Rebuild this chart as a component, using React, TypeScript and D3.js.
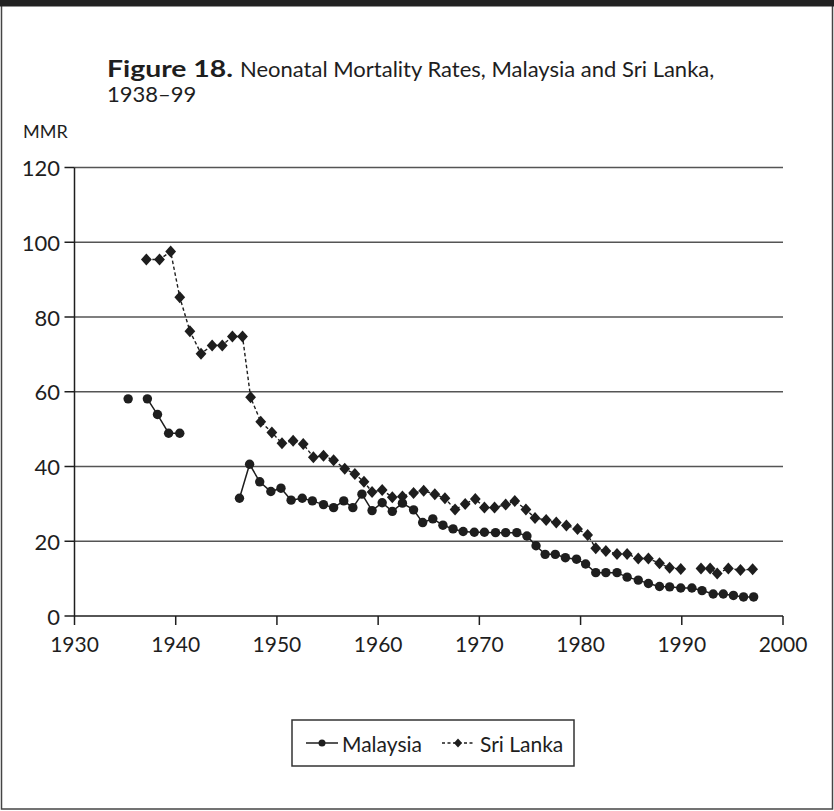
import React from "react";
import * as d3 from "d3";

// ---- data ----
const malaysiaYears = [
  1935.3, 1936.2, 1937.2, 1938.2, 1939.3, 1940.4, 1943.0, 1946.3, 1947.3, 1948.3, 1949.4,
  1950.4, 1951.4, 1952.5, 1953.5, 1954.6, 1955.6, 1956.6, 1957.5, 1958.4, 1959.4,
  1960.4, 1961.4, 1962.4, 1963.5, 1964.4, 1965.4, 1966.4, 1967.4, 1968.4, 1969.5,
  1970.5, 1971.6, 1972.6, 1973.7, 1974.7, 1975.6, 1976.5, 1977.5, 1978.5, 1979.6,
  1980.5, 1981.5, 1982.5, 1983.6, 1984.6, 1985.7, 1986.7, 1987.8, 1988.8, 1989.9,
  1991.0, 1992.0, 1993.1, 1994.1, 1995.1, 1996.1, 1997.1,
];
const malaysiaValues: (number | null)[] = [
  58.1, null, 58.1, 53.9, 48.9, 48.9, null, 31.5, 40.6, 35.9, 33.3,
  34.2, 31.0, 31.5, 30.8, 29.8, 29.0, 30.8, 29.0, 32.6, 28.2,
  30.3, 28.0, 30.2, 28.4, 25.0, 26.0, 24.3, 23.3, 22.6, 22.4,
  22.4, 22.3, 22.3, 22.3, 21.4, 18.8, 16.5, 16.5, 15.6, 15.2,
  13.9, 11.6, 11.6, 11.6, 10.4, 9.6, 8.7, 7.9, 7.8, 7.5,
  7.5, 6.8, 5.9, 5.9, 5.5, 5.1, 5.1,
];

const sriLankaYears = [
  1937.1, 1938.4, 1939.5, 1940.4, 1941.4, 1942.5, 1943.6, 1944.6, 1945.6, 1946.6,
  1947.4, 1948.4, 1949.5, 1950.5, 1951.6, 1952.6, 1953.6, 1954.6, 1955.6, 1956.7,
  1957.7, 1958.6, 1959.4, 1960.4, 1961.4, 1962.4, 1963.5, 1964.5, 1965.6, 1966.6,
  1967.6, 1968.6, 1969.6, 1970.5, 1971.5, 1972.6, 1973.5, 1974.6, 1975.5, 1976.6,
  1977.6, 1978.6, 1979.7, 1980.7, 1981.5, 1982.5, 1983.6, 1984.6, 1985.7, 1986.7,
  1987.8, 1988.8, 1989.9, 1990.9, 1991.9, 1992.8, 1993.5, 1994.6, 1995.8, 1997.0,
];
const sriLankaValues: (number | null)[] = [
  95.4, 95.4, 97.5, 85.3, 76.2, 70.2, 72.4, 72.4, 74.8, 74.8,
  58.5, 52.0, 49.1, 46.2, 46.9, 46.0, 42.5, 42.9, 41.7, 39.4,
  38.0, 35.9, 33.2, 33.7, 31.8, 32.0, 32.9, 33.5, 32.6, 31.5,
  28.5, 30.0, 31.3, 29.0, 29.0, 29.8, 30.8, 28.5, 26.2, 25.7,
  25.0, 24.2, 23.3, 21.7, 18.1, 17.4, 16.6, 16.6, 15.4, 15.4,
  14.1, 12.9, 12.6, null, 12.7, 12.7, 11.4, 12.7, 12.3, 12.5,
];

const xTicks = [1930, 1940, 1950, 1960, 1970, 1980, 1990, 2000];
const yTicks = [0, 20, 40, 60, 80, 100, 120];
const seriesNames = ["Malaysia", "Sri Lanka"];

const W = 834;
const H = 811;
const FONT = "Lato, 'Open Sans', sans-serif";
const INK = "#1e1e1e";

type Pt = { x: number; v: number | null };

export default function App() {
  const x = d3.scaleLinear().domain([1930, 2000]).range([74.5, 783]);
  const y = d3.scaleLinear().domain([0, 120]).range([616, 167.5]);

  const mal: Pt[] = malaysiaYears.map((yr, i) => ({ x: yr, v: malaysiaValues[i] }));
  const sri: Pt[] = sriLankaYears.map((yr, i) => ({ x: yr, v: sriLankaValues[i] }));

  const line = d3
    .line<Pt>()
    .defined((d) => d.v != null)
    .x((d) => x(d.x))
    .y((d) => y(d.v as number));

  const diamond = (cx: number, cy: number, r = 6) =>
    `M${cx},${cy - r}L${cx + r * 0.9},${cy}L${cx},${cy + r}L${cx - r * 0.9},${cy}Z`;

  const [x0, x1] = x.range();

  return (
    <svg
      width={W}
      height={H}
      style={{ position: "absolute", left: 0, top: 0, background: "#fff" }}
      fontFamily={FONT}
    >
      {/* frame */}
      <rect x={0} y={0} width={W} height={H} fill="#fff" />
      <rect x={1.5} y={1} width={W - 3} height={H - 3} fill="none" stroke="#444" strokeWidth={1.5} />
      <rect x={0} y={0} width={W} height={6.5} fill="#222" />

      {/* title */}
      <text
        x={107}
        y={77}
        fontSize={23}
        fontWeight="bold"
        fill={INK}
        textLength={126}
        lengthAdjust="spacingAndGlyphs"
      >
        Figure 18.
      </text>
      <text x={240} y={77} fontSize={22} fill={INK}>
        Neonatal Mortality Rates, Malaysia and Sri Lanka,
      </text>
      <text x={107} y={102} fontSize={22} fill={INK}>
        1938–99
      </text>
      <text x={23} y={138} fontSize={18} fill={INK}>
        MMR
      </text>

      {/* gridlines */}
      {yTicks.map((t) => (
        <g key={t}>
          {t > 0 && (
            <line x1={x0} x2={x1} y1={y(t)} y2={y(t)} stroke="#555" strokeWidth={1.5} />
          )}
          <line x1={x0 - 10} x2={x0} y1={y(t)} y2={y(t)} stroke={INK} strokeWidth={1.5} />
          <text
            x={60}
            y={y(t)}
            textAnchor="end"
            dominantBaseline="central"
            fontSize={22}
            fill={INK}
          >
            {t}
          </text>
        </g>
      ))}

      {/* axes */}
      <line x1={x0} x2={x0} y1={y(120)} y2={y(0)} stroke={INK} strokeWidth={1.5} />
      <line x1={x0} x2={x1} y1={y(0)} y2={y(0)} stroke={INK} strokeWidth={1.5} />
      {xTicks.map((t) => (
        <g key={t}>
          <line x1={x(t)} x2={x(t)} y1={y(0)} y2={y(0) + 9} stroke={INK} strokeWidth={1.5} />
          <text x={x(t)} y={652} textAnchor="middle" fontSize={21} fill={INK}>
            {t}
          </text>
        </g>
      ))}

      {/* Sri Lanka */}
      <path d={line(sri) || ""} fill="none" stroke={INK} strokeWidth={1.4} strokeDasharray="3.5,2.5" />
      {sri
        .filter((d) => d.v != null)
        .map((d, i) => (
          <path key={i} d={diamond(x(d.x), y(d.v as number))} fill={INK} />
        ))}

      {/* Malaysia */}
      <path d={line(mal) || ""} fill="none" stroke={INK} strokeWidth={1.5} />
      {mal
        .filter((d) => d.v != null)
        .map((d, i) => (
          <circle key={i} cx={x(d.x)} cy={y(d.v as number)} r={4.7} fill={INK} />
        ))}

      {/* legend */}
      <g>
        <rect x={292} y={720} width={282} height={46} fill="#fff" stroke="#333" strokeWidth={1.5} />
        <line x1={306} x2={338} y1={743} y2={743} stroke={INK} strokeWidth={1.5} />
        <circle cx={322} cy={743} r={3.5} fill={INK} />
        <text x={342} y={743} dominantBaseline="central" fontSize={21} fill={INK}>
          {seriesNames[0]}
        </text>
        <line x1={442} x2={474} y1={743} y2={743} stroke={INK} strokeWidth={1.3} strokeDasharray="3,2.5" />
        <path d={diamond(458, 743, 4.5)} fill={INK} />
        <text x={480} y={743} dominantBaseline="central" fontSize={21} fill={INK}>
          {seriesNames[1]}
        </text>
      </g>
    </svg>
  );
}
